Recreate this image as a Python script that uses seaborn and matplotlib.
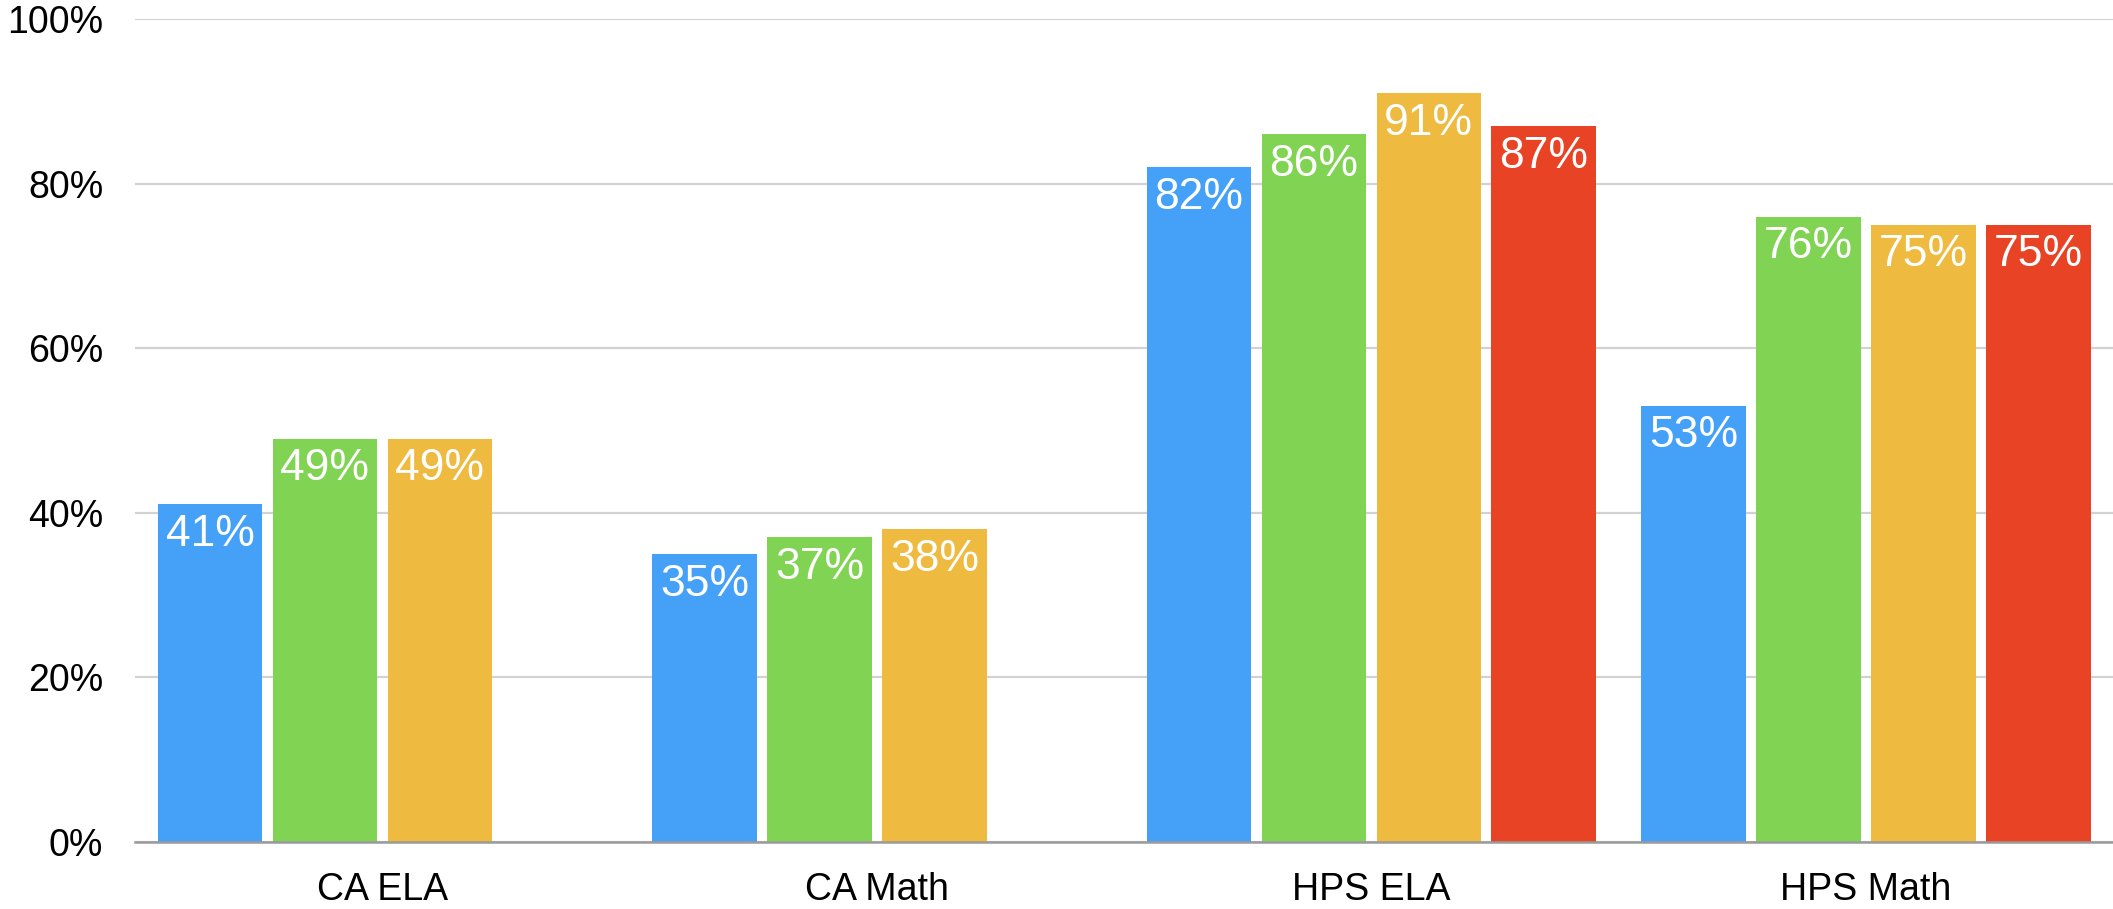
import pandas as pd
import seaborn as sns
import matplotlib.pyplot as plt

# values (percent)
tests = ['CA ELA', 'CA Math', 'HPS ELA', 'HPS Math']
series = ['S1', 'S2', 'S3', 'S4']
s1 = [41, 35, 82, 53]
s2 = [49, 37, 86, 76]
s3 = [49, 38, 91, 75]
s4 = [None, None, 87, 75]
colors = ['#45A1F7', '#80D353', '#EEBA3F', '#E84325']

rows = []
for name, vals in zip(series, [s1, s2, s3, s4]):
    for t, v in zip(tests, vals):
        rows.append({'test': t, 'series': name, 'value': v})
df = pd.DataFrame(rows)

sns.set_style('white')
plt.rcParams['font.family'] = ['Liberation Sans', 'DejaVu Sans']

fig = plt.figure(figsize=(21.13, 9.09), dpi=100)
ax = fig.add_axes([0.064, 0.074, 0.936, 0.905])

sns.barplot(data=df, x='test', y='value', hue='series', order=tests,
            hue_order=series, palette=colors, width=0.93, gap=0.09,
            linewidth=0, saturation=1, errorbar=None, legend=False, ax=ax)

ax.set_ylim(0, 100)
ax.set_xlim(-0.5, 3.5)
ax.set_yticks([0, 20, 40, 60, 80, 100])
ax.set_yticklabels([f'{v}%' for v in [0, 20, 40, 60, 80, 100]])
ax.set_xlabel('')
ax.set_ylabel('')
ax.yaxis.grid(True, color='#D2D2D2', linewidth=1.6)
ax.set_axisbelow(True)
for side in ['top', 'right', 'left']:
    ax.spines[side].set_visible(False)
ax.spines['bottom'].set_color('#9A9A9A')
ax.spines['bottom'].set_linewidth(1.8)
ax.tick_params(axis='y', length=0, pad=23, labelsize=27, labelcolor='black')
ax.tick_params(axis='x', length=0, pad=22, labelsize=27, labelcolor='black')

# white value labels inside the top of each bar
for p in ax.patches:
    h = p.get_height()
    if h and h > 0:
        ax.annotate(f'{h:.0f}%', (p.get_x() + p.get_width() / 2, h),
                    xytext=(0, -7), textcoords='offset points',
                    ha='center', va='top', color='white', fontsize=32)

fig.savefig('out.png', dpi=100)
